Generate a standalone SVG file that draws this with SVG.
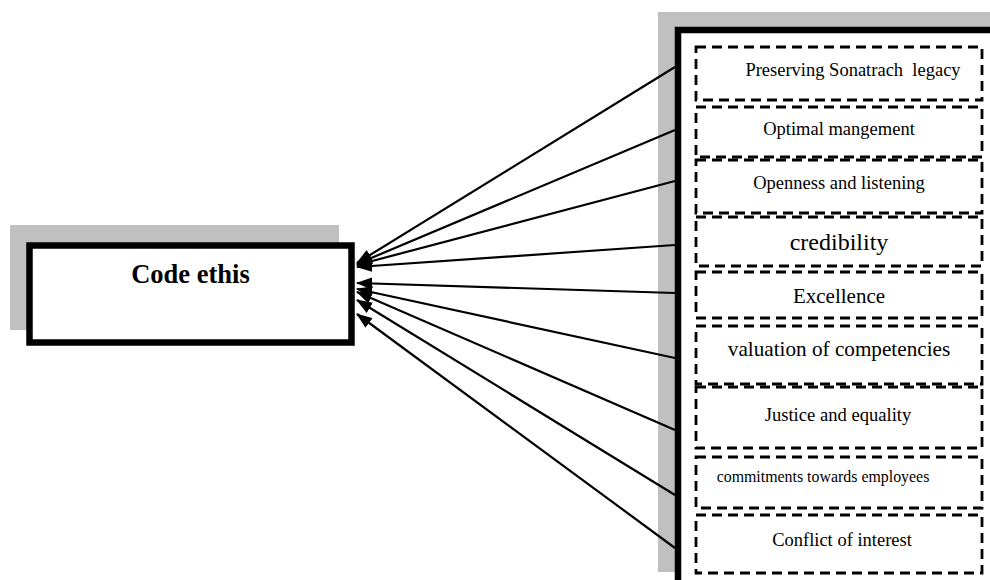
<svg xmlns="http://www.w3.org/2000/svg" width="990" height="580" viewBox="0 0 990 580">
<style>
.shadow{fill:#c0c0c0;stroke:none}
.frame{fill:#fff;stroke:#000;stroke-width:6.5}
.item{fill:#fff;stroke:#000;stroke-width:2.8;stroke-dasharray:10 6}
.lbl{font-family:"Liberation Serif","Times New Roman",serif;fill:#000;text-anchor:middle;white-space:pre}
.conn line{stroke:#000;stroke-width:2.2;marker-end:url(#ah)}
</style>
<defs>
<marker id="ah" markerUnits="userSpaceOnUse" markerWidth="16" markerHeight="12" viewBox="0 0 16 12" refX="15" refY="6" orient="auto">
<path d="M0,0 L16,6 L0,12 Z" fill="#000"/>
</marker>
</defs>
<rect width="990" height="580" fill="#fff"/>

<g id="code-ethis">
<rect class="shadow" x="10" y="225" width="329" height="105"/>
<rect class="frame" x="29.5" y="245.5" width="322" height="97"/>
<text class="lbl" x="190.5" y="283" font-size="26.5" font-weight="bold">Code ethis</text>
</g>

<g id="values-panel">
<rect class="shadow" x="658" y="12" width="340" height="560"/>
<rect class="frame" x="678" y="30" width="330" height="570"/>
</g>

<g id="v1"><rect class="item" x="696" y="47" width="286" height="53"/><text class="lbl" x="853" y="76" font-size="18.5" xml:space="preserve">Preserving Sonatrach  legacy</text></g>
<g id="v2"><rect class="item" x="696" y="107" width="286" height="50"/><text class="lbl" x="839" y="135" font-size="18.5">Optimal mangement</text></g>
<g id="v3"><rect class="item" x="696" y="160" width="286" height="53"/><text class="lbl" x="839" y="189" font-size="18.5">Openness and listening</text></g>
<g id="v4"><rect class="item" x="696" y="217" width="286" height="49"/><text class="lbl" x="839" y="250" font-size="24">credibility</text></g>
<g id="v5"><rect class="item" x="696" y="272" width="286" height="46"/><text class="lbl" x="839" y="303" font-size="21">Excellence</text></g>
<g id="v6"><rect class="item" x="696" y="326" width="286" height="58"/><text class="lbl" x="839" y="356" font-size="21.2">valuation of competencies</text></g>
<g id="v7"><rect class="item" x="696" y="387" width="286" height="61"/><text class="lbl" x="838" y="421" font-size="18.6">Justice and equality</text></g>
<g id="v8"><rect class="item" x="696" y="457" width="286" height="51"/><text class="lbl" x="823" y="482" font-size="15.9">commitments towards employees</text></g>
<g id="v9"><rect class="item" x="696" y="515" width="286" height="58"/><text class="lbl" x="842" y="546" font-size="18.5">Conflict of interest</text></g>

<g id="connectors" class="conn">
<line x1="675" y1="67" x2="357" y2="263"/>
<line x1="675" y1="130" x2="357" y2="264"/>
<line x1="675" y1="181" x2="357" y2="265"/>
<line x1="675" y1="245" x2="357" y2="267"/>
<line x1="675" y1="293" x2="357" y2="283"/>
<line x1="675" y1="358" x2="357" y2="289"/>
<line x1="675" y1="430" x2="357" y2="292"/>
<line x1="675" y1="495" x2="357" y2="300"/>
<line x1="675" y1="548" x2="357" y2="314"/>
</g>
</svg>
